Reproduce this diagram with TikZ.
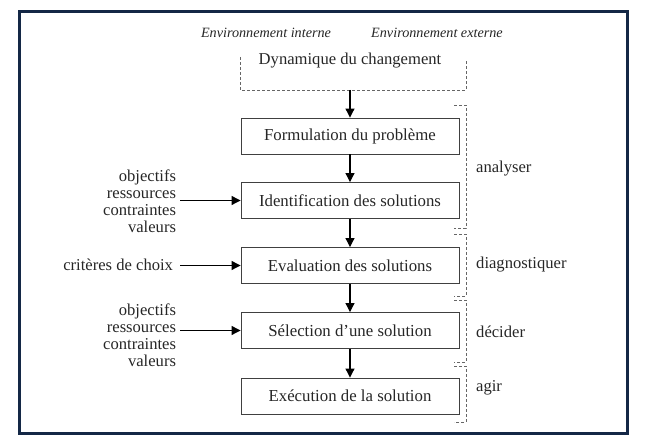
\documentclass[tikz,border=0pt]{standalone}
\usepackage{fontspec}
\setmainfont{Liberation Serif}
\usetikzlibrary{arrows.meta}
\definecolor{framec}{RGB}{20,40,70}
\begin{document}
\begin{tikzpicture}[x=1pt,y=-1pt,
  proc/.style={draw=black!75, line width=0.9pt, minimum width=218pt, minimum height=36pt, font=\fontsize{16.8}{19}\selectfont, inner sep=0pt, text=black!85},
  flow/.style={line width=1.1pt, -{Triangle[length=9pt,width=9pt]}},
  brk/.style={draw=black!60, line width=0.8pt, dash pattern=on 3pt off 2pt},
  lab/.style={font=\fontsize{16.6}{17}\selectfont, inner sep=0pt, text=black!85},
  envl/.style={font=\fontsize{14.2}{16}\selectfont\itshape, inner sep=0pt, text=black!85},
  ]
\useasboundingbox (0,0) rectangle (665,446);
\draw[line width=3pt, draw=framec] (19.5,11.5) rectangle (627.5,433.5);

% header
\node[envl] (ei) at (266,33) {Environnement interne};
\node[envl] (ee) at (437,33) {Environnement externe};
\node[lab] (d) at (350,61) {Dynamique du changement};
\coordinate (dbot) at (350,90);
\draw[brk] (240,57) -- (240,90) -- (466,90) -- (466,60);

% process boxes
\node[proc] (f) at (350,136) {Formulation du problème};
\node[proc] (i) at (350,200.5) {Identification des solutions};
\node[proc] (e) at (350,265.5) {Evaluation des solutions};
\node[proc] (s) at (350,330.5) {Sélection d’une solution};
\node[proc] (x) at (350,396) {Exécution de la solution};

\draw[flow] (dbot) -- (f.north);
\draw[flow] (f) -- (i);
\draw[flow] (i) -- (e);
\draw[flow] (e) -- (s);
\draw[flow] (s) -- (x);

% left inputs
\node[lab, align=right, anchor=east, outer xsep=4pt] (in1) at (180,201) {objectifs\\ressources\\contraintes\\valeurs};
\node[lab, anchor=east, outer xsep=7pt] (in2) at (180,265) {critères de choix};
\node[lab, align=right, anchor=east, outer xsep=4pt] (in3) at (180,335) {objectifs\\ressources\\contraintes\\valeurs};
\draw[flow] (in1.east |- i.west) -- (i.west);
\draw[flow] (in2.east |- e.west) -- (e.west);
\draw[flow] (in3.east |- s.west) -- (s.west);

% right phases
\draw[brk] (454,105) -- (466,105) -- (466,228) -- (454,228);
\draw[brk] (454,234) -- (466,234) -- (466,296) -- (454,296);
\draw[brk] (454,300) -- (466,300) -- (466,362) -- (454,362);
\draw[brk] (454,366) -- (466,366) -- (466,422) -- (454,422);
\node[lab, anchor=west] (p1) at (476,169) {analyser};
\node[lab, anchor=west] (p2) at (476,265) {diagnostiquer};
\node[lab, anchor=west] (p3) at (476,332) {décider};
\node[lab, anchor=west] (p4) at (476,388) {agir};
\end{tikzpicture}
\end{document}
